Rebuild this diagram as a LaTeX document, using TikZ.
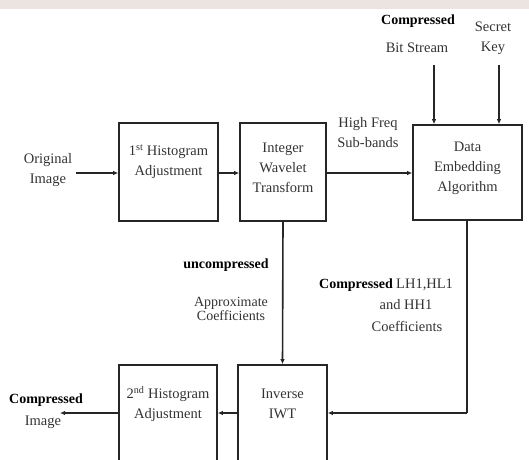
\documentclass[tikz,border=0pt]{standalone}
\usepackage{fontspec}
\setmainfont{Liberation Serif}
\usetikzlibrary{arrows.meta}
\definecolor{band}{RGB}{236,228,224}
\tikzset{
  blk/.style={draw=black!85, line width=1.6pt, minimum width=#1, inner sep=0pt},
  txt/.style={text=black!80, font=\fontsize{14.5}{20}\selectfont, align=center, inner sep=0pt},
  tighttxt/.style={text=black!80, font=\fontsize{14}{12.5}\selectfont, align=center, inner sep=0pt},
  bold/.style={text=black, font=\fontsize{14}{16}\selectfont\bfseries, inner sep=0pt},
  conn/.style={draw=black!85, line width=1.6pt, -{Latex[length=5pt,width=4.5pt]}},
  line/.style={draw=black!85, line width=1.6pt}
}
\begin{document}
\begin{tikzpicture}[x=1pt,y=-1pt]
\useasboundingbox (0,0) rectangle (529,459);
\clip (0,0) rectangle (529,459);
\fill[band] (0,0) rectangle (529,9);
% boxes
\node[blk=99pt, minimum height=98pt] (h1) at (168.5,172) {};
\node[blk=86pt, minimum height=98pt] (iwt) at (283,172) {};
\node[blk=109pt, minimum height=95pt] (emb) at (467.5,172.5) {};
\node[blk=98pt, minimum height=105pt] (h2) at (168,417.5) {};
\node[blk=89pt, minimum height=105pt] (inv) at (282.5,417.5) {};
% box texts
\node[txt] (h1t) at (168.5,162) {1\textsuperscript{st} Histogram\\Adjustment};
\node[txt] (iwtt) at (283,168) {Integer\\Wavelet\\Transform};
\node[txt] (embt) at (467.5,168) {Data\\Embedding\\Algorithm};
\node[txt] (h2t) at (168,404) {2\textsuperscript{nd} Histogram\\Adjustment};
\node[txt] (invt) at (282.5,404) {Inverse\\IWT};
% outer texts
\node[txt] (orig) at (48,170) {Original\\Image};
\node[txt] (hf) at (368,133) {High Freq\\Sub-bands};
\node[bold] (cbs) at (418,21) {Compressed};
\node[txt] (bs) at (417,48) {Bit Stream};
\node[txt] (sk) at (493,38) {Secret\\Key};
\node[bold] (unc) at (226,265) {uncompressed};
\node[tighttxt] (appr) at (231,309) {Approximate\\Coefficients};
\node[bold] (clh) at (356,285) {Compressed};
\node[txt, anchor=west] (lh) at (396,285) {LH1,HL1};
\node[txt] (hh) at (406,305) {and HH1};
\node[txt] (coef) at (407,326) {Coefficients};
\node[bold] (cimg) at (46,400) {Compressed};
\node[txt] (img) at (43,422) {Image};
% coordinates
\coordinate (oin) at (76,173);
\coordinate (bstop) at (434,65);
\coordinate (sktop) at (499,65);
\coordinate (corner) at (467,413);
\coordinate (outimg) at (60,413);
% connectors
\draw[conn] (oin) -- (h1.west |- oin);
\draw[conn] (h1.east |- oin) -- (iwt.west |- oin);
\draw[conn] (iwt.east |- oin) -- (emb.west |- oin);
\draw[conn] (bstop) -- (emb.north -| bstop);
\draw[conn] (sktop) -- (emb.north -| sktop);
\draw[conn] (iwt.south) -- (inv.north);
\draw[line] (emb.south -| corner) -- (corner);
\draw[conn] (corner) -- (inv.east |- corner);
\draw[conn] (inv.west |- corner) -- (h2.east |- corner);
\draw[conn] (h2.west |- corner) -- (outimg);
\end{tikzpicture}
\end{document}
